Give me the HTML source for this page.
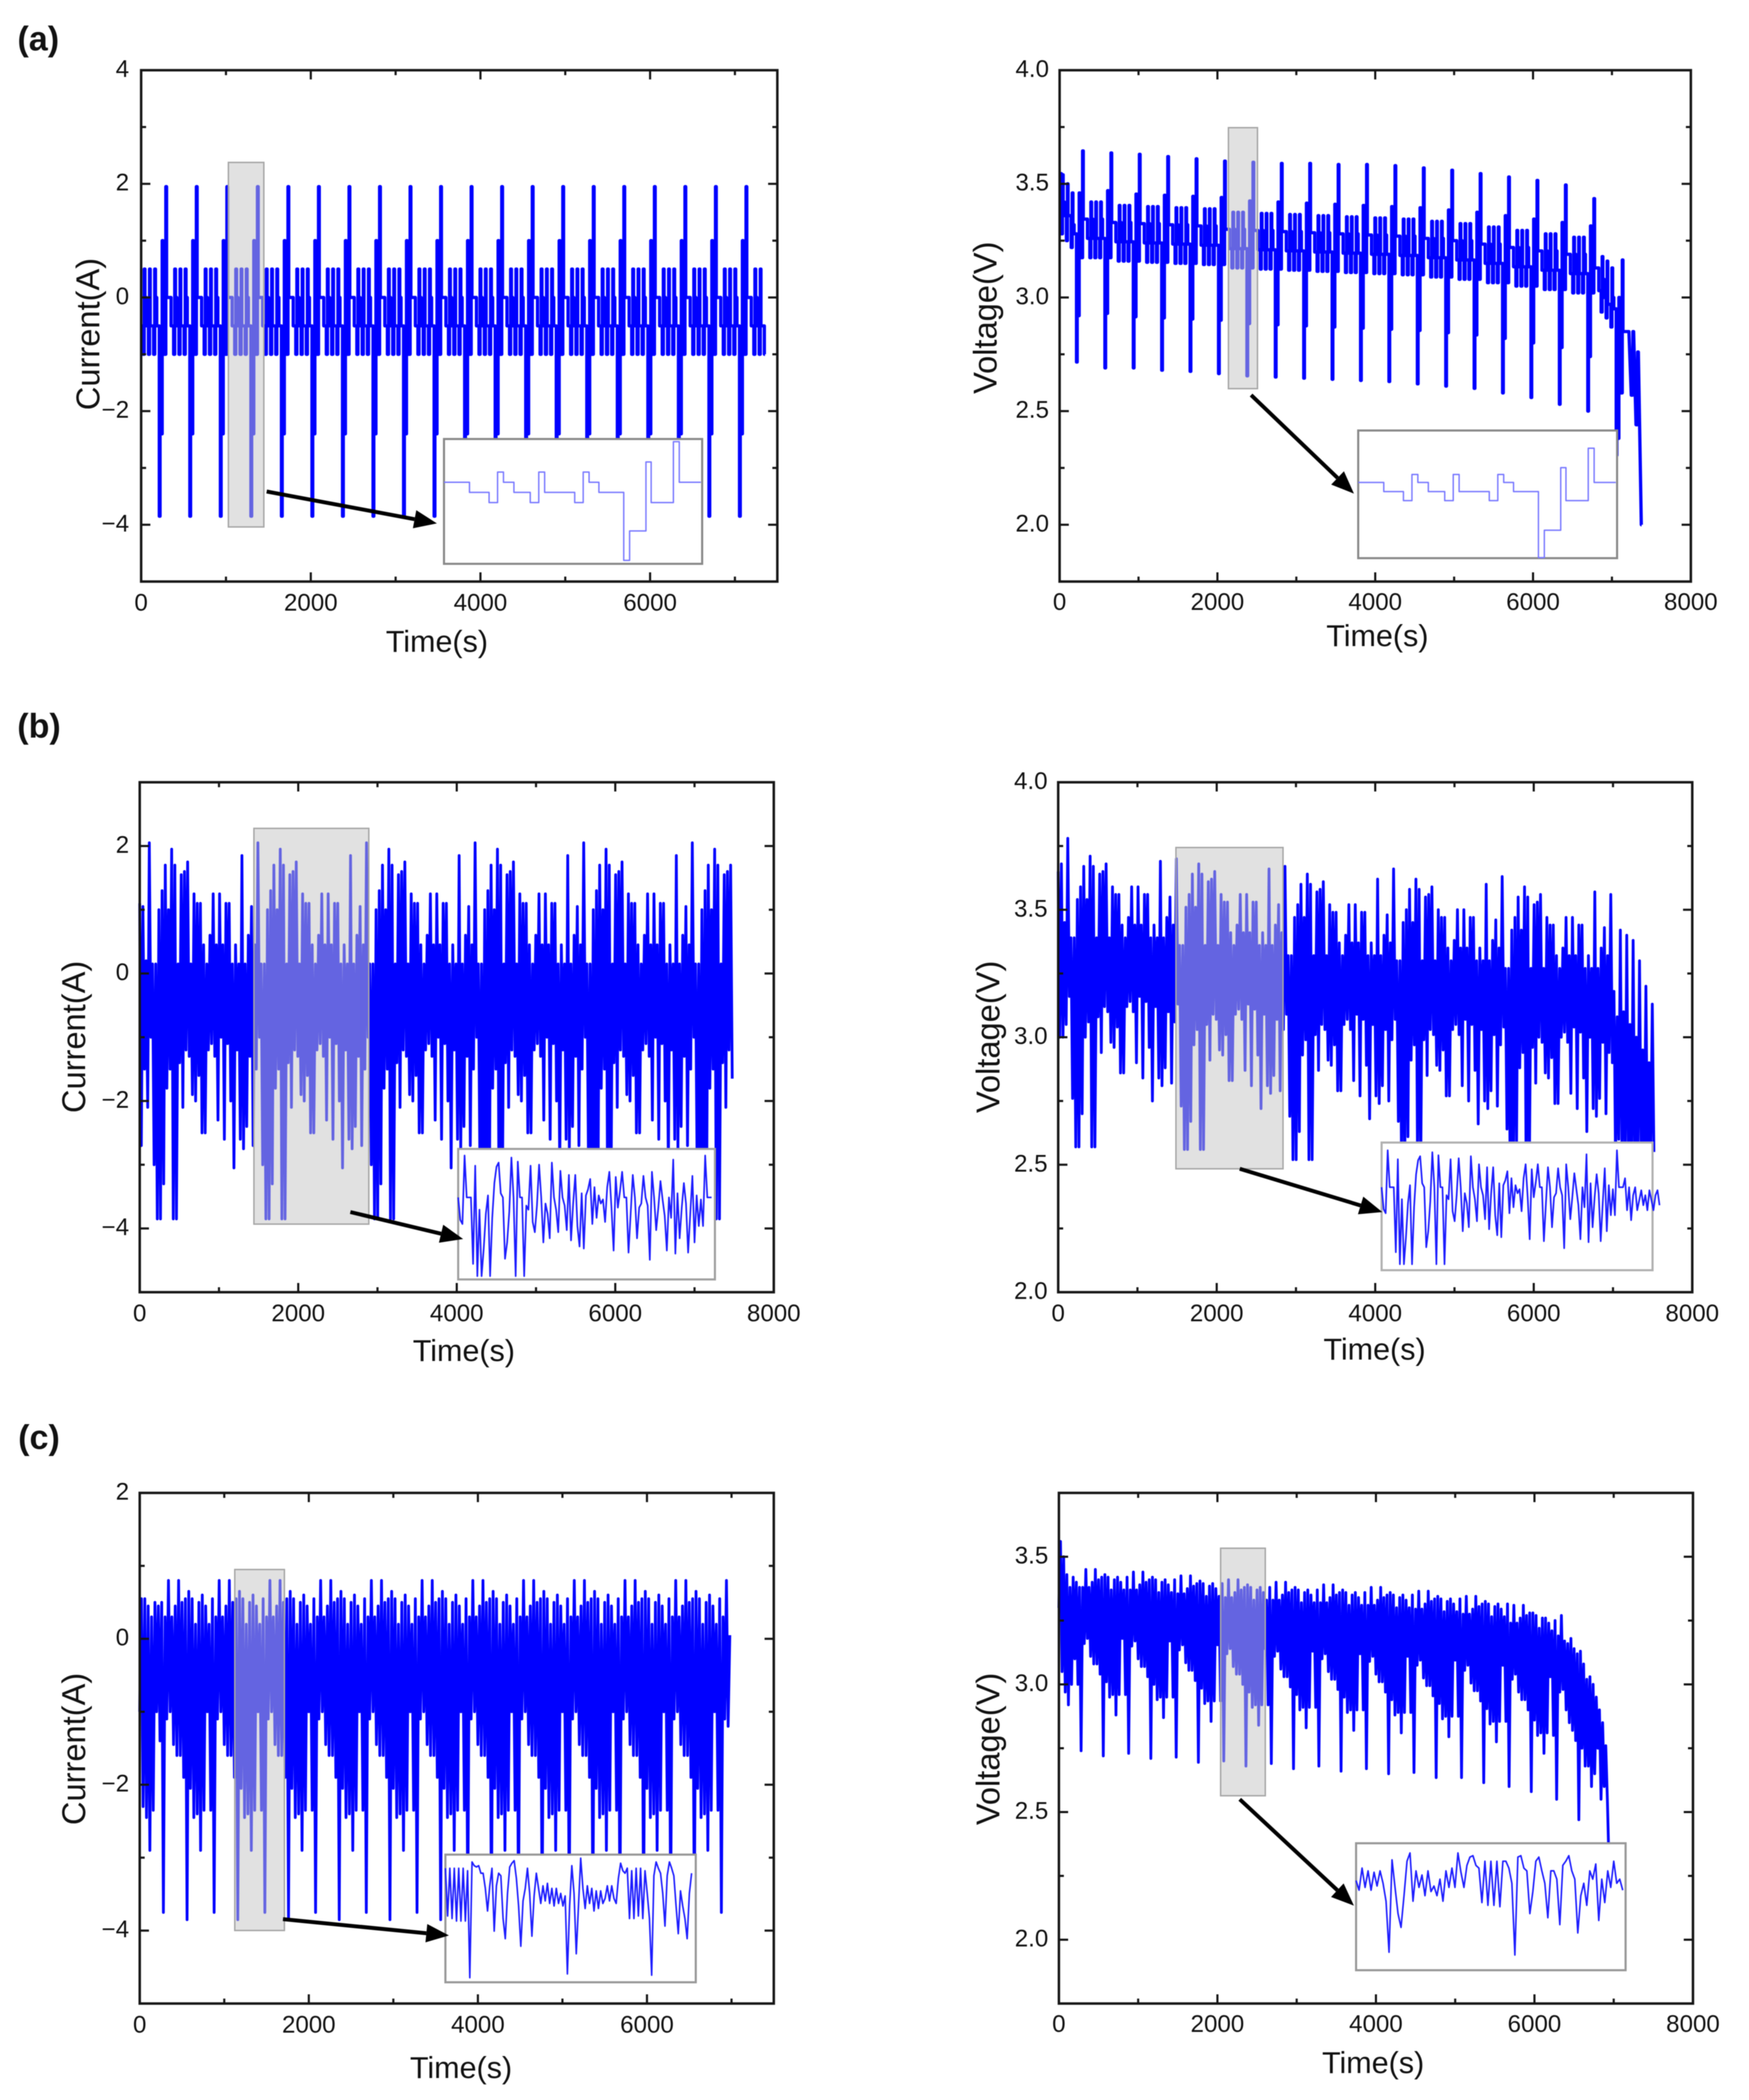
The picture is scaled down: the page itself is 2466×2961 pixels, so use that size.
<!DOCTYPE html>
<html lang="en">
<head>
<meta charset="utf-8">
<title>Battery current and voltage profiles</title>
<style>
html,body{margin:0;padding:0;background:#fff;}
svg{display:block;filter:blur(0.5px);}
text{font-family:"Liberation Sans",sans-serif;fill:#111;}
.tick-label{font-size:34px;}
.x-title{font-size:43px;text-anchor:middle;dominant-baseline:central;}
.y-title{font-size:46px;text-anchor:middle;dominant-baseline:central;}
.panel-label{font-size:48px;font-weight:bold;text-anchor:middle;}
</style>
</head>
<body>
<svg id="figure" xmlns="http://www.w3.org/2000/svg" width="2466" height="2961" viewBox="0 0 2466 2961">
  <rect x="0" y="0" width="2466" height="2961" fill="#fff"/>
  <text class="panel-label" x="54" y="71">(a)</text>
  <text class="panel-label" x="55" y="1040">(b)</text>
  <text class="panel-label" x="55" y="2043">(c)</text>

  <g id="panel-a-current">
    <text class="x-title" x="616" y="905">Time(s)</text>
    <text class="y-title" x="124" y="471" transform="rotate(-90 124 471)">Current(A)</text>
  </g>
  <g id="panel-a-voltage">
    <text class="x-title" x="1942" y="897">Time(s)</text>
    <text class="y-title" x="1389" y="448" transform="rotate(-90 1389 448)">Voltage(V)</text>
  </g>
  <g id="panel-b-current">
    <text class="x-title" x="654" y="1905">Time(s)</text>
    <text class="y-title" x="104" y="1462" transform="rotate(-90 104 1462)">Current(A)</text>
  </g>
  <g id="panel-b-voltage">
    <text class="x-title" x="1938" y="1903">Time(s)</text>
    <text class="y-title" x="1393" y="1462" transform="rotate(-90 1393 1462)">Voltage(V)</text>
  </g>
  <g id="panel-c-current">
    <text class="x-title" x="650" y="2916">Time(s)</text>
    <text class="y-title" x="104" y="2466" transform="rotate(-90 104 2466)">Current(A)</text>
  </g>
  <g id="panel-c-voltage">
    <text class="x-title" x="1936" y="2909">Time(s)</text>
    <text class="y-title" x="1393" y="2466" transform="rotate(-90 1393 2466)">Voltage(V)</text>
  </g>
</svg>
<script>
/* ---------- axis ticks ---------- */
const xMajor7500 = [0,2000,4000,6000];
const xMinor7500 = [1000,3000,5000,7000];
const xLabels7500 = ['0','2000','4000','6000'];
const xMajor8000 = [0,2000,4000,6000,8000];
const xMinor8000 = [1000,3000,5000,7000];
const xLabels8000 = ['0','2000','4000','6000','8000'];
const yMajorACurrent = [-4,-2,0,2,4];
const yMinorACurrent = [-3,-1,1,3];
const yLabelsACurrent = ['−4','−2','0','2','4'];
const yMajorAVoltage = [2,2.5,3,3.5,4];
const yMinorAVoltage = [2.25,2.75,3.25,3.75];
const yLabelsAVoltage = ['2.0','2.5','3.0','3.5','4.0'];
const yMajorBCurrent = [-4,-2,0,2];
const yMinorBCurrent = [-3,-1,1];
const yLabelsBCurrent = ['−4','−2','0','2'];
const yMajorCVoltage = [2,2.5,3,3.5];
const yMinorCVoltage = [2.25,2.75,3.25];
const yLabelsCVoltage = ['2.0','2.5','3.0','3.5'];

/* ---------- panel (a): repeating step profile ---------- */
const aCycleStarts = [-60,300,660,1020,1380,1740,2100,2460,2820,3180,3540,3900,4260,4620,4980,5340,5700,6060,6420,6780,7140];
const aStepDurations = [53,30,13,9,16,25,13,8,40,13,9,15,30,9,25,9,34,9];
const aStepCurrents = [0,-0.5,-1,0.5,0,-0.5,-1,0.5,-0.5,-1,0.5,0,-0.5,-3.85,-2.4,1,-1,1.95];
const aEndTime = 7355;
const aStepVoltageKinds = ['rest','dn','low','up','rest','dn','low','up','dn','low','up','rest','dn','trough','m24','one','low','peak'];
const aRestVolts = [3.345,3.33,3.325,3.32,3.315,3.30,3.295,3.29,3.285,3.28,3.275,3.27,3.26,3.25,3.235,3.22,3.205,3.19];
const aDownVolts = [3.26,3.245,3.24,3.235,3.23,3.215,3.21,3.205,3.2,3.195,3.19,3.185,3.175,3.165,3.15,3.135,3.12,3.105];
const aLowVolts = [3.175,3.16,3.155,3.15,3.145,3.13,3.125,3.12,3.115,3.11,3.105,3.1,3.09,3.08,3.065,3.05,3.035,3.02];
const aUpVolts = [3.42,3.405,3.4,3.395,3.39,3.375,3.37,3.365,3.36,3.355,3.35,3.345,3.335,3.325,3.31,3.295,3.28,3.265];
const aOneVolts = [3.47,3.455,3.45,3.445,3.44,3.425,3.42,3.415,3.41,3.405,3.40,3.395,3.385,3.375,3.36,3.345,3.33,3.315];
const aM24Volts = [2.93,2.915,2.91,2.905,2.90,2.885,2.88,2.875,2.87,2.865,2.86,2.855,2.845,2.835,2.82,2.80,2.78,2.74];
const aPeakVolts = [3.636,3.63,3.62,3.61,3.60,3.595,3.59,3.59,3.585,3.585,3.58,3.57,3.56,3.545,3.53,3.515,3.495,3.435];
const aTroughVolts = [2.69,2.69,2.68,2.675,2.665,2.655,2.65,2.645,2.64,2.635,2.63,2.62,2.61,2.60,2.58,2.56,2.53,2.50];
const aHeadTimes = [0,12,22,36,45,61,86,99,107,147,160,169,184,214,223,248,257,291];
const aHeadVolts = [3.40,3.545,3.28,3.54,3.42,3.36,3.25,3.50,3.36,3.22,3.46,3.32,3.28,2.716,2.92,3.46,3.175,3.645];
const aLateTimes = [6780,6833,6863,6876,6885,6901,6926,6939,6947,6987,7000,7009,7024,7054,7063,7088,7097,7131];
const aLateVolts = [3.13,3.03,2.936,3.18,3.08,3.0,2.91,3.16,2.97,2.87,3.13,3.0,2.95,2.305,2.38,3.0,2.58,3.165];
const aTailTimes = [7140,7215,7245,7262,7266,7275,7305,7322,7326,7335,7350,7372,7376];
const aTailVolts = [2.85,2.85,2.57,2.57,2.85,2.85,2.44,2.44,2.76,2.76,2.45,2.0,2.0];
const aInsetTimes = [39,69,82,91,107,132,145,154,200,213,222,237,275,284,309,317,351,360,393];
const aInsetCurrents = [0,-0.5,-1,0.5,0,-0.5,-1,0.5,-0.5,-1,0.5,0,-0.5,-3.85,-2.4,1,-1,2,0];
const aInsetVolts = [3.29,3.21,3.13,3.36,3.29,3.21,3.13,3.36,3.21,3.13,3.36,3.29,3.21,2.63,2.87,3.42,3.13,3.59,3.29];

/* ---------- panel (b) ---------- */
const bSampleStep = 20.15;
const bCurrents = [
1.1,-2.7,1.05,-1.5,.2,-2.1,
2.05,-1.0,.15,-3.0,.15,-3.85,1.0,-3.85,1.3,-3.3,1.7,-1.8,1.0,-1.5,1.95,-3.85,1.7,-3.85,.15,-1.4,1.55,-2.1,1.6,-1.2,1.75,-1.3,.15,-1.9,1.25,-2.0,1.1,-1.6,1.1,-2.5,.45,-2.5,.15,-1.2,.6,-1.1,1.25,-1.3,.45,-2.3,1.25,-1.0,.45,-2.6,1.1,-1.1,1.1,-2.0,.15,-3.05,.45,-1.2,.15,-2.6,1.85,-2.75,.15,-2.4,.6,-1.3,1.05,-2.7,.45,-1.5,
2.05,-1.0,.15,-3.0,.15,-3.85,1.0,-3.85,1.3,-3.3,1.7,-1.8,1.0,-1.5,1.95,-3.85,1.7,-3.85,.15,-1.4,1.55,-2.1,1.6,-1.2,1.75,-1.3,.15,-1.9,1.25,-2.0,1.1,-1.6,1.1,-2.5,.45,-2.5,.15,-1.2,.6,-1.1,1.25,-1.3,.45,-2.3,1.25,-1.0,.45,-2.6,1.1,-1.1,1.1,-2.0,.15,-3.05,.45,-1.2,.15,-2.6,1.85,-2.75,.15,-2.4,.6,-1.3,1.05,-2.7,.45,-1.5,
2.05,-1.0,.15,-3.0,.15,-3.85,1.0,-3.85,1.3,-3.3,1.7,-1.8,1.0,-1.5,1.95,-3.85,1.7,-3.85,.15,-1.4,1.55,-2.1,1.6,-1.2,1.75,-1.3,.15,-1.9,1.25,-2.0,1.1,-1.6,1.1,-2.5,.45,-2.5,.15,-1.2,.6,-1.1,1.25,-1.3,.45,-2.3,1.25,-1.0,.45,-2.6,1.1,-1.1,1.1,-2.0,.15,-3.05,.45,-1.2,.15,-2.6,1.85,-2.75,.15,-2.4,.6,-1.3,1.05,-2.7,.45,-1.5,
2.05,-1.0,.15,-3.0,.15,-3.85,1.0,-3.85,1.3,-3.3,1.7,-1.8,1.0,-1.5,1.95,-3.85,1.7,-3.85,.15,-1.4,1.55,-2.1,1.6,-1.2,1.75,-1.3,.15,-1.9,1.25,-2.0,1.1,-1.6,1.1,-2.5,.45,-2.5,.15,-1.2,.6,-1.1,1.25,-1.3,.45,-2.3,1.25,-1.0,.45,-2.6,1.1,-1.1,1.1,-2.0,.15,-3.05,.45,-1.2,.15,-2.6,1.85,-2.75,.15,-2.4,.6,-1.3,1.05,-2.7,.45,-1.5,
2.05,-1.0,.15,-3.0,.15,-3.85,1.0,-3.85,1.3,-3.3,1.7,-1.8,1.0,-1.5,1.95,-3.85,1.7,-3.85,.15,-1.4,1.55,-2.1,1.6,-1.2,1.75,-1.3,.15,-1.9,1.25,-2.0,1.1,-1.6,1.1,-2.5,.45,-2.5,.15,-1.2,.6,-1.1,1.25,-1.3,.45,-2.3,1.25,-1.0,.45,-2.6,1.1,-1.1,1.1,-2.0,.15,-3.05,.45,-1.2,.15,-2.6,1.85,-2.75,.15,-2.4,.6,-1.3,1.05,-2.7,.45,-1.5,
2.05,-1.0,.15,-3.0,.15,-3.85,1.0,-3.85,1.3,-3.3,1.7,-1.8,1.0,-1.5,1.95,-3.85,1.7,-3.85,.15,-1.4,1.55,-2.1,1.6,-1.2,1.7,-1.65
];
const bVolts = [
3.65,3.0,3.68,3.0,3.45,3.05,
3.78,3.16,3.39,2.76,3.39,2.57,3.54,2.57,3.59,2.70,3.67,3.00,3.54,3.06,3.71,2.57,3.67,2.57,3.39,3.08,3.64,2.94,3.65,3.12,3.68,3.10,3.39,2.98,3.59,2.96,3.56,3.04,3.56,2.86,3.44,2.86,3.39,3.12,3.47,3.14,3.59,3.10,3.44,2.90,3.59,3.16,3.44,2.84,3.56,3.14,3.56,2.96,3.39,2.75,3.44,3.12,3.39,2.84,3.69,2.81,3.39,2.88,3.47,3.10,3.55,2.82,3.44,3.06,
3.70,3.13,3.36,2.73,3.36,2.56,3.51,2.56,3.56,2.67,3.64,2.97,3.51,3.03,3.68,2.56,3.64,2.56,3.36,3.05,3.61,2.91,3.62,3.09,3.65,3.07,3.36,2.95,3.56,2.93,3.53,3.01,3.53,2.83,3.41,2.83,3.36,3.09,3.44,3.11,3.56,3.07,3.41,2.87,3.56,3.13,3.41,2.81,3.53,3.11,3.53,2.93,3.36,2.72,3.41,3.09,3.36,2.81,3.66,2.78,3.36,2.85,3.44,3.07,3.52,2.79,3.41,3.03,
3.67,3.09,3.32,2.69,3.32,2.52,3.47,2.52,3.52,2.63,3.60,2.93,3.47,2.99,3.64,2.52,3.60,2.52,3.32,3.01,3.57,2.87,3.58,3.05,3.61,3.03,3.32,2.91,3.52,2.89,3.49,2.97,3.49,2.79,3.37,2.79,3.32,3.05,3.40,3.07,3.52,3.03,3.37,2.83,3.52,3.09,3.37,2.77,3.49,3.07,3.49,2.89,3.32,2.68,3.37,3.05,3.32,2.77,3.62,2.74,3.32,2.81,3.40,3.03,3.48,2.75,3.37,2.99,
3.66,3.07,3.30,2.67,3.30,2.50,3.45,2.50,3.50,2.61,3.58,2.91,3.45,2.97,3.62,2.50,3.58,2.50,3.30,2.99,3.55,2.85,3.56,3.03,3.59,3.01,3.30,2.89,3.50,2.87,3.47,2.95,3.47,2.77,3.35,2.77,3.30,3.03,3.38,3.05,3.50,3.01,3.35,2.81,3.50,3.07,3.35,2.75,3.47,3.05,3.47,2.87,3.30,2.66,3.35,3.03,3.30,2.75,3.60,2.72,3.30,2.79,3.38,3.01,3.46,2.73,3.35,2.97,
3.63,3.04,3.27,2.64,3.27,2.47,3.42,2.47,3.47,2.58,3.55,2.88,3.42,2.94,3.59,2.47,3.55,2.47,3.27,2.96,3.52,2.82,3.53,3.0,3.56,2.98,3.27,2.86,3.47,2.84,3.44,2.92,3.44,2.74,3.32,2.74,3.27,3.0,3.35,3.02,3.47,2.98,3.32,2.78,3.47,3.04,3.32,2.72,3.44,3.02,3.44,2.84,3.27,2.63,3.32,3.0,3.27,2.72,3.57,2.69,3.27,2.76,3.35,2.98,3.43,2.70,3.32,2.94,
3.56,2.9,3.18,2.5,3.08,2.6,3.42,2.55,3.1,2.5,3.4,2.55,3.05,2.5,3.38,2.5,3.0,2.55,3.3,2.55,2.95,2.5,3.2,2.5,2.9,2.55,3.13,2.55
];
const bInsetCurrents = [0,-1.1,-1.3,2.05,0,0,0,-3.25,1.55,-3.85,-.6,-3.85,-2.5,-.8,.1,-3.85,-1,.7,1.5,1.7,.2,0,-3.0,-2.2,-.7,1.95,0,-3.85,1.75,0,0,-3.85,-.4,-.6,1.55,-1.2,-1.7,-.4,1.6,0,-2.2,-.3,-.8,-2.0,1.7,0,-.6,-1.7,1.3,0,-.4,-1.6,1.1,-2.1,-.3,1.1,-1.4,-2.4,.2,-2.5,.1,.4,.9,-1.3,.5,-1,.1,-.3,-.1,-1.2,.5,1.25,-.5,-2.6,1.0,-.5,.3,1.25,0,0,-2.7,-.8,1.1,0,-2,-.5,-.3,1.05,0,-.4,-3.05,1.25,0,-1.6,-.5,.8,-.1,-.9,-2.6,0,-1,1.85,-2.75,.2,-2,-.5,.7,-.3,-2.7,-.8,1.05,-2.2,.1,-1.4,-.1,-1.4,2.05,0,0,0];
const bInsetVolts = [3.33,3.11,3.07,3.70,3.33,3.33,3.33,2.68,3.61,2.56,3.21,2.56,2.83,3.17,3.35,2.56,3.13,3.46,3.60,3.64,3.37,3.33,2.73,2.89,3.19,3.68,3.33,2.56,3.65,3.33,3.33,2.56,3.25,3.21,3.61,3.09,2.99,3.25,3.62,3.33,2.89,3.27,3.17,2.93,3.64,3.33,3.21,2.99,3.56,3.33,3.25,3.01,3.53,2.91,3.27,3.53,3.05,2.85,3.37,2.83,3.35,3.40,3.49,3.07,3.42,3.13,3.35,3.27,3.31,3.09,3.42,3.56,3.23,2.81,3.51,3.23,3.38,3.56,3.33,3.33,2.79,3.17,3.53,3.33,2.93,3.23,3.27,3.52,3.33,3.25,2.72,3.56,3.33,3.01,3.23,3.47,3.31,3.15,2.81,3.33,3.13,3.66,2.78,3.37,2.93,3.23,3.46,3.27,2.79,3.17,3.52,2.89,3.35,3.05,3.31,3.05,3.70,3.33,3.33,3.33,3.42,3.1,3.33,3.0,3.25,3.33,3.1,3.2,3.3,3.15,3.25,3.1,3.3,3.2,3.1,3.25,3.3,3.15];

/* ---------- panel (c) ---------- */
const cSampleStep = 20;
const cCurrents = [
-1.0,.55,-2.3,.55,-2.45,.45,-2.9,.3,-2.35,.5,-1.0,.45,-1.4,.5,
-3.75,.3,-1.1,.8,-1.0,.3,-1.45,.45,-1.6,.8,-1.6,.5,-1.9,.55,-3.85,.65,-2.05,.55,-2.45,.2,-2.4,.5,-2.9,.6,-2.35,.45,-1.0,.2,-2.35,.55,
-3.75,.3,-1.1,.8,-1.0,.3,-1.45,.45,-1.6,.8,-1.6,.5,-1.9,.55,-3.85,.65,-2.05,.55,-2.45,.2,-2.4,.5,-2.9,.6,-2.35,.45,-1.0,.2,-2.35,.55,
-3.75,.3,-1.1,.8,-1.0,.3,-1.45,.45,-1.6,.8,-1.6,.5,-1.9,.55,-3.85,.65,-2.05,.55,-2.45,.2,-2.4,.5,-2.9,.6,-2.35,.45,-1.0,.2,-2.35,.55,
-3.75,.3,-1.1,.8,-1.0,.3,-1.45,.45,-1.6,.8,-1.6,.5,-1.9,.55,-3.85,.65,-2.05,.55,-2.45,.2,-2.4,.5,-2.9,.6,-2.35,.45,-1.0,.2,-2.35,.55,
-3.75,.3,-1.1,.8,-1.0,.3,-1.45,.45,-1.6,.8,-1.6,.5,-1.9,.55,-3.85,.65,-2.05,.55,-2.45,.2,-2.4,.5,-2.9,.6,-2.35,.45,-1.0,.2,-2.35,.55,
-3.75,.3,-1.1,.8,-1.0,.3,-1.45,.45,-1.6,.8,-1.6,.5,-1.9,.55,-3.85,.65,-2.05,.55,-2.45,.2,-2.4,.5,-2.9,.6,-2.35,.45,-1.0,.2,-2.35,.55,
-3.75,.3,-1.1,.8,-1.0,.3,-1.45,.45,-1.6,.8,-1.6,.5,-1.9,.55,-3.85,.65,-2.05,.55,-2.45,.2,-2.4,.5,-2.9,.6,-2.35,.45,-1.0,.2,-2.35,.55,
-3.75,.3,-1.1,.8,-1.0,.3,-1.45,.45,-1.6,.8,-1.6,.5,-1.9,.55,-3.85,.65,-2.05,.55,-2.45,.2,-2.4,.5,-2.9,.6,-2.35,.45,-1.0,.2,-2.35,.55,
-3.75,.3,-1.1,.8,-1.0,.3,-1.45,.45,-1.6,.8,-1.6,.5,-1.9,.55,-3.85,.65,-2.05,.55,-2.45,.2,-2.4,.5,-2.9,.6,-2.35,.45,-1.0,.2,-2.35,.55,
-3.75,.3,-1.1,.8,-1.0,.3,-1.45,.45,-1.6,.8,-1.6,.5,-1.9,.55,-3.85,.65,-2.05,.55,-2.45,.2,-2.4,.5,-2.9,.6,-2.35,.45,-1.0,.2,-2.35,.55,
-3.75,.3,-1.1,.8,-1.0,.3,-1.45,.45,-1.6,.8,-1.6,.5,-1.9,.55,-3.85,.65,-2.05,.55,-2.45,.2,-2.4,.5,-2.9,.6,-2.35,.45,-1.0,.2,-2.35,.55,
-3.75,.3,-1.1,.8,-1.2,.05
];
const cVolts = [
3.3,3.56,3.05,3.5,2.97,3.43,2.92,3.38,3.0,3.42,3.1,3.40,3.0,3.38,
2.74,3.38,3.16,3.45,3.18,3.38,3.11,3.40,3.08,3.45,3.08,3.41,3.04,3.42,2.72,3.43,3.01,3.42,2.95,3.37,2.96,3.41,2.88,3.42,2.96,3.40,3.18,3.37,2.96,3.42,
2.73,3.37,3.15,3.44,3.17,3.37,3.10,3.39,3.07,3.44,3.07,3.40,3.03,3.41,2.71,3.42,3.0,3.41,2.94,3.36,2.95,3.40,2.87,3.41,2.95,3.39,3.17,3.36,2.95,3.41,
2.715,3.355,3.135,3.425,3.155,3.355,3.085,3.375,3.055,3.425,3.055,3.385,3.015,3.395,2.695,3.405,2.985,3.395,2.925,3.345,2.935,3.385,2.855,3.395,2.935,3.375,3.155,3.345,2.935,3.395,
2.70,3.34,3.12,3.41,3.14,3.34,3.07,3.36,3.04,3.41,3.04,3.37,3.0,3.38,2.68,3.39,2.97,3.38,2.91,3.33,2.92,3.37,2.84,3.38,2.92,3.36,3.14,3.33,2.92,3.38,
2.69,3.33,3.11,3.40,3.13,3.33,3.06,3.35,3.03,3.40,3.03,3.36,2.99,3.37,2.67,3.38,2.96,3.37,2.90,3.32,2.91,3.36,2.83,3.37,2.91,3.35,3.13,3.32,2.91,3.37,
2.68,3.32,3.10,3.39,3.12,3.32,3.05,3.34,3.02,3.39,3.02,3.35,2.98,3.36,2.66,3.37,2.95,3.36,2.89,3.31,2.90,3.35,2.82,3.36,2.90,3.34,3.12,3.31,2.90,3.36,
2.67,3.31,3.09,3.38,3.11,3.31,3.04,3.33,3.01,3.38,3.01,3.34,2.97,3.35,2.65,3.36,2.94,3.35,2.88,3.30,2.89,3.34,2.81,3.35,2.89,3.33,3.11,3.30,2.89,3.35,
2.655,3.295,3.075,3.365,3.095,3.295,3.025,3.315,2.995,3.365,2.995,3.325,2.955,3.335,2.635,3.345,2.925,3.335,2.865,3.285,2.875,3.325,2.795,3.335,2.875,3.315,3.095,3.285,2.875,3.335,
2.635,3.275,3.055,3.345,3.075,3.275,3.005,3.295,2.975,3.345,2.975,3.305,2.935,3.315,2.615,3.325,2.905,3.315,2.845,3.265,2.855,3.305,2.775,3.315,2.855,3.295,3.075,3.265,2.855,3.315,
2.60,3.24,3.02,3.31,3.04,3.24,2.97,3.26,2.94,3.31,2.94,3.27,2.90,3.28,2.58,3.28,2.86,3.27,2.80,3.22,2.81,3.26,2.73,3.26,2.81,3.24,3.03,3.21,2.80,3.25,
2.55,3.19,2.97,3.27,2.98,3.17,2.90,3.16,2.85,3.18,2.82,3.14,2.78,3.12,2.47,3.13,2.75,3.08,2.68,3.02,2.68,3.03,2.60,3.0,2.65,2.95,2.75,2.9,2.55,2.85,
2.6,2.76,2.55,2.3,2.1
];
const cInsetCurrents = [.5,-1.4,.5,-1.5,.5,-1.6,.5,-1.6,.5,-1.6,.4,-3.85,.75,.6,.55,.6,.3,.3,-.3,-1.2,-.2,.5,-2.0,-.2,.3,.2,-1.5,-2.3,-.5,.55,.7,.8,.1,-1.0,-2.6,-.8,-.3,.5,-.5,-2.2,-.6,.3,-.3,-.9,-.2,-.8,-.1,-.9,-.3,-1,-.3,-.9,-.5,-1,-.6,-3.7,-1,.6,-.5,-2.9,-1,.9,-.3,-1.1,-.2,-.9,-.3,-1.2,-.4,-1.1,-.4,-.9,-.7,-.2,-.8,-.2,-.7,-.9,.1,.7,.4,.3,.5,-1.5,.4,-1.5,.5,-1.4,.5,-1.5,.4,-.5,-1.5,-3.75,.2,.75,.5,.3,-.5,-1.8,.2,.75,.5,.2,-1,-2.1,-.4,-1,-1.5,-2.3,-.5,.3];
const cInsetVolts = [3.20,3.13,3.29,3.15,3.27,3.13,3.26,3.16,3.27,3.18,3.05,2.68,3.35,3.15,2.96,2.86,3.09,3.34,3.40,3.05,3.27,3.15,3.24,3.09,3.27,3.12,3.16,3.09,3.21,3.05,3.27,3.15,3.29,3.15,3.40,3.26,3.15,3.31,3.37,3.38,3.31,3.29,3.04,3.34,3.02,3.34,3.02,3.34,3.01,3.34,3.34,3.29,3.18,2.66,3.37,3.38,3.29,3.27,2.96,3.12,3.34,3.37,3.27,3.18,2.93,3.27,3.27,3.21,2.88,3.31,3.34,3.38,3.27,3.21,2.82,3.09,3.18,3.02,3.27,3.21,3.32,2.91,3.21,3.04,3.27,3.15,3.34,3.18,3.21,3.13];

/* ---------- drawing helpers ---------- */
const SVG_NS = 'http://www.w3.org/2000/svg';
function linear(d0, d1, r0, r1) {
  return function (v) { return r0 + (v - d0) * (r1 - r0) / (d1 - d0); };
}
function makeEl(tag, parent) {
  const el = document.createElementNS(SVG_NS, tag);
  parent.appendChild(el);
  return el;
}
function pathFrom(times, values, sx, sy) {
  let d = '';
  for (let i = 0; i < times.length; i++) {
    d += (i ? 'L' : 'M') + sx(times[i]).toFixed(2) + ' ' + sy(values[i]).toFixed(2);
  }
  return d;
}
function drawSeries(parent, times, values, sx, sy, name, width) {
  const p = makeEl('path', parent);
  p.setAttribute('d', pathFrom(times, values, sx, sy));
  p.setAttribute('fill', 'none');
  p.setAttribute('stroke', '#0000ff');
  p.setAttribute('stroke-width', width);
  p.setAttribute('stroke-linejoin', 'round');
  
  
}
function drawFrameAndTicks(parent, box, sx, sy, xMaj, xMin, xLab, yMaj, yMin, yLab, yLabelRight, xLabelBase) {
  const frame = makeEl('rect', parent);
  frame.setAttribute('x', box.l);
  frame.setAttribute('y', box.t);
  frame.setAttribute('width', box.r - box.l);
  frame.setAttribute('height', box.b - box.t);
  frame.setAttribute('fill', 'none');
  frame.setAttribute('stroke', '#151515');
  frame.setAttribute('stroke-width', '3.5');
  
  
  function tick(x1, y1, x2, y2, name) {
    const t = makeEl('line', parent);
    t.setAttribute('x1', x1);
    t.setAttribute('y1', y1);
    t.setAttribute('x2', x2);
    t.setAttribute('y2', y2);
    t.setAttribute('stroke', '#151515');
    t.setAttribute('stroke-width', '3');
    
    
  }
  xMaj.forEach(function (v) {
    const x = sx(v);
    tick(x, box.b, x, box.b - 13, 'x-major-tick');
    tick(x, box.t, x, box.t + 13, 'x-major-tick-top');
  });
  xMin.forEach(function (v) {
    const x = sx(v);
    tick(x, box.b, x, box.b - 7, 'x-minor-tick');
    tick(x, box.t, x, box.t + 7, 'x-minor-tick-top');
  });
  yMaj.forEach(function (v) {
    const y = sy(v);
    tick(box.l, y, box.l + 13, y, 'y-major-tick');
    tick(box.r, y, box.r - 13, y, 'y-major-tick-right');
  });
  yMin.forEach(function (v) {
    const y = sy(v);
    tick(box.l, y, box.l + 7, y, 'y-minor-tick');
    tick(box.r, y, box.r - 7, y, 'y-minor-tick-right');
  });
  xMaj.forEach(function (v, i) {
    const t = makeEl('text', parent);
    t.setAttribute('class', 'tick-label');
    t.setAttribute('x', sx(v));
    t.setAttribute('y', xLabelBase);
    t.setAttribute('text-anchor', 'middle');
    t.textContent = xLab[i];
    
    
  });
  yMaj.forEach(function (v, i) {
    const t = makeEl('text', parent);
    t.setAttribute('class', 'tick-label');
    t.setAttribute('x', yLabelRight);
    t.setAttribute('y', sy(v) + 9.5);
    t.setAttribute('text-anchor', 'end');
    t.textContent = yLab[i];
    
    
  });
}
function drawHighlight(parent, x0, y0, x1, y1) {
  const r = makeEl('rect', parent);
  r.setAttribute('x', x0);
  r.setAttribute('y', y0);
  r.setAttribute('width', x1 - x0);
  r.setAttribute('height', y1 - y0);
  r.setAttribute('fill', 'rgb(196,196,196)');
  r.setAttribute('fill-opacity', '0.51');
  r.setAttribute('stroke', '#a6a6a6');
  r.setAttribute('stroke-width', '2');
  
  
}
function drawInsetBox(parent, x0, y0, x1, y1, color) {
  const r = makeEl('rect', parent);
  r.setAttribute('x', x0);
  r.setAttribute('y', y0);
  r.setAttribute('width', x1 - x0);
  r.setAttribute('height', y1 - y0);
  r.setAttribute('fill', '#fff');
  r.setAttribute('stroke', color);
  r.setAttribute('stroke-width', '3');
  
  
}
function drawInsetLine(parent, times, values, sx, sy, color, width) {
  const p = makeEl('path', parent);
  p.setAttribute('d', pathFrom(times, values, sx, sy));
  p.setAttribute('fill', 'none');
  p.setAttribute('stroke', color);
  p.setAttribute('stroke-width', width);
  p.setAttribute('stroke-linejoin', 'round');
  
  
}
function drawArrow(parent, x1, y1, x2, y2) {
  const dx = x2 - x1, dy = y2 - y1, len = Math.sqrt(dx * dx + dy * dy);
  const ux = dx / len, uy = dy / len;
  const bx = x2 - ux * 32, by = y2 - uy * 32;
  const l = makeEl('line', parent);
  l.setAttribute('x1', x1);
  l.setAttribute('y1', y1);
  l.setAttribute('x2', bx);
  l.setAttribute('y2', by);
  l.setAttribute('stroke', '#000');
  l.setAttribute('stroke-width', '5.5');
  
  
  const h = makeEl('polygon', parent);
  h.setAttribute('points', x2 + ',' + y2 + ' ' + (bx - uy * 13) + ',' + (by + ux * 13) + ' ' + (bx + uy * 13) + ',' + (by - ux * 13));
  h.setAttribute('fill', '#000');
  
  
}
function sampleTimes(count, start, step) {
  const out = [];
  for (let i = 0; i < count; i++) out.push(start + i * step);
  return out;
}
function stepsToPolyline(breaks, levels, startTime) {
  const ts = [startTime], vs = [levels[0]];
  for (let i = 0; i < breaks.length; i++) {
    ts.push(breaks[i]);
    vs.push(levels[i]);
    if (i + 1 < levels.length) {
      ts.push(breaks[i]);
      vs.push(levels[i + 1]);
    }
  }
  return { ts: ts, vs: vs };
}
function buildCurrentA() {
  const ts = [], vs = [];
  aCycleStarts.forEach(function (start) {
    let t = start;
    aStepDurations.forEach(function (dur, i) {
      const a = Math.max(t, 0), b = Math.min(t + dur, aEndTime);
      if (b > a) {
        ts.push(a, b);
        vs.push(aStepCurrents[i], aStepCurrents[i]);
      }
      t += dur;
    });
  });
  return { ts: ts, vs: vs };
}
function buildVoltageA() {
  const ts = [], vs = [];
  function steps(times, values, end) {
    times.forEach(function (t, i) {
      const next = i + 1 < times.length ? times[i + 1] : end;
      ts.push(t, next);
      vs.push(values[i], values[i]);
    });
  }
  steps(aHeadTimes, aHeadVolts, aCycleStarts[1]);
  const lookup = { rest: aRestVolts, dn: aDownVolts, low: aLowVolts, up: aUpVolts, one: aOneVolts, m24: aM24Volts, peak: aPeakVolts, trough: aTroughVolts };
  aRestVolts.forEach(function (unused, k) {
    let t = aCycleStarts[k + 1];
    aStepDurations.forEach(function (dur, i) {
      const v = lookup[aStepVoltageKinds[i]][k];
      ts.push(t, t + dur);
      vs.push(v, v);
      t += dur;
    });
  });
  steps(aLateTimes, aLateVolts, aTailTimes[0]);
  aTailTimes.forEach(function (t, i) {
    ts.push(t);
    vs.push(aTailVolts[i]);
  });
  return { ts: ts, vs: vs };
}

/* ---------- panel (a) current ---------- */
(function () {
  const g = document.getElementById('panel-a-current');
  const box = { l: 199, r: 1096, t: 99, b: 820 };
  const sx = linear(0, 7500, box.l, box.r);
  const sy = linear(-5, 4, box.b, box.t);
  const s = buildCurrentA();
  drawSeries(g, s.ts, s.vs, sx, sy, 'current-series-line', '4.6');
  drawFrameAndTicks(g, box, sx, sy, xMajor7500, xMinor7500, xLabels7500, yMajorACurrent, yMinorACurrent, yLabelsACurrent, 182, 861);
  drawHighlight(g, 322, 229, 372, 743);
  drawInsetBox(g, 626, 619, 990, 795, '#8a8a8a');
  const ins = stepsToPolyline(aInsetTimes, aInsetCurrents, 0);
  drawInsetLine(g, ins.ts, ins.vs, linear(0, 395, 626, 990), linear(-4.02, 2.13, 795, 619), '#7a7aff', '2');
  drawArrow(g, 376, 693, 616, 738);
})();

/* ---------- panel (a) voltage ---------- */
(function () {
  const g = document.getElementById('panel-a-voltage');
  const box = { l: 1494, r: 2384, t: 99, b: 820 };
  const sx = linear(0, 8000, box.l, box.r);
  const sy = linear(1.75, 4, box.b, box.t);
  const s = buildVoltageA();
  drawSeries(g, s.ts, s.vs, sx, sy, 'voltage-series-line', '4.6');
  drawFrameAndTicks(g, box, sx, sy, xMajor8000, xMinor8000, xLabels8000, yMajorAVoltage, yMinorAVoltage, yLabelsAVoltage, 1479, 860);
  drawHighlight(g, 1732, 180, 1773, 548);
  drawInsetBox(g, 1915, 607, 2280, 787, '#8a8a8a');
  const ins = stepsToPolyline(aInsetTimes, aInsetVolts, 0);
  drawInsetLine(g, ins.ts, ins.vs, linear(0, 395, 1915, 2280), linear(2.625, 3.746, 787, 607), '#7a7aff', '2');
  drawArrow(g, 1764, 557, 1909, 696);
})();

/* ---------- panel (b) current ---------- */
(function () {
  const g = document.getElementById('panel-b-current');
  const box = { l: 197, r: 1091, t: 1103, b: 1822 };
  const sx = linear(0, 8000, box.l, box.r);
  const sy = linear(-5, 3, box.b, box.t);
  drawSeries(g, sampleTimes(bCurrents.length, 0, bSampleStep), bCurrents, sx, sy, 'current-series-line', '3.9');
  drawFrameAndTicks(g, box, sx, sy, xMajor8000, xMinor8000, xLabels8000, yMajorBCurrent, yMinorBCurrent, yLabelsBCurrent, 182, 1863);
  drawHighlight(g, 358, 1168, 520, 1726);
  drawInsetBox(g, 646, 1620, 1008, 1804, '#a0a0a0');
  drawInsetLine(g, sampleTimes(bInsetCurrents.length, 1458, 12.1), bInsetCurrents, linear(1458, 2917, 646, 1008), linear(-4.01, 2.37, 1804, 1620), '#1c1cff', '2.3');
  drawArrow(g, 494, 1709, 653, 1747);
})();

/* ---------- panel (b) voltage ---------- */
(function () {
  const g = document.getElementById('panel-b-voltage');
  const box = { l: 1492, r: 2386, t: 1103, b: 1822 };
  const sx = linear(0, 8000, box.l, box.r);
  const sy = linear(2, 4, box.b, box.t);
  drawSeries(g, sampleTimes(bVolts.length, 0, bSampleStep), bVolts, sx, sy, 'voltage-series-line', '3.9');
  drawFrameAndTicks(g, box, sx, sy, xMajor8000, xMinor8000, xLabels8000, yMajorAVoltage, yMinorAVoltage, yLabelsAVoltage, 1477, 1863);
  drawHighlight(g, 1658, 1195, 1809, 1648);
  drawInsetBox(g, 1948, 1611, 2330, 1791, '#b0b0b0');
  drawInsetLine(g, sampleTimes(bInsetVolts.length, 1455, 12.1), bInsetVolts, linear(1455, 3071, 1948, 2330), linear(2.5, 3.777, 1791, 1611), '#1c1cff', '2.3');
  drawArrow(g, 1748, 1648, 1949, 1709);
})();

/* ---------- panel (c) current ---------- */
(function () {
  const g = document.getElementById('panel-c-current');
  const box = { l: 197, r: 1091, t: 2105, b: 2825 };
  const sx = linear(0, 7500, box.l, box.r);
  const sy = linear(-5, 2, box.b, box.t);
  drawSeries(g, sampleTimes(cCurrents.length, 0, cSampleStep), cCurrents, sx, sy, 'current-series-line', '3.9');
  drawFrameAndTicks(g, box, sx, sy, xMajor7500, xMinor7500, xLabels7500, yMajorBCurrent, yMinorBCurrent, yLabelsBCurrent, 182, 2866);
  drawHighlight(g, 331, 2213, 401, 2722);
  drawInsetBox(g, 628, 2615, 981, 2795, '#999');
  drawInsetLine(g, sampleTimes(cInsetCurrents.length, 1124, 5.2), cInsetCurrents, linear(1124, 1711, 628, 981), linear(-4.03, 1.04, 2795, 2615), '#1c1cff', '2.2');
  drawArrow(g, 399, 2706, 633, 2729);
})();

/* ---------- panel (c) voltage ---------- */
(function () {
  const g = document.getElementById('panel-c-voltage');
  const box = { l: 1493, r: 2387, t: 2105, b: 2825 };
  const sx = linear(0, 8000, box.l, box.r);
  const sy = linear(1.75, 3.75, box.b, box.t);
  drawSeries(g, sampleTimes(cVolts.length, 0, cSampleStep), cVolts, sx, sy, 'voltage-series-line', '3.9');
  drawFrameAndTicks(g, box, sx, sy, xMajor8000, xMinor8000, xLabels8000, yMajorCVoltage, yMinorCVoltage, yLabelsCVoltage, 1478, 2865);
  drawHighlight(g, 1721, 2183, 1784, 2532);
  drawInsetBox(g, 1912, 2599, 2292, 2778, '#999');
  drawInsetLine(g, sampleTimes(cInsetVolts.length, 2040, 6.27), cInsetVolts, linear(2040, 2604, 1912, 2292), linear(2.55, 3.47, 2778, 2599), '#1c1cff', '2.2');
  drawArrow(g, 1748, 2537, 1909, 2687);
})();
</script>
</body>
</html>
